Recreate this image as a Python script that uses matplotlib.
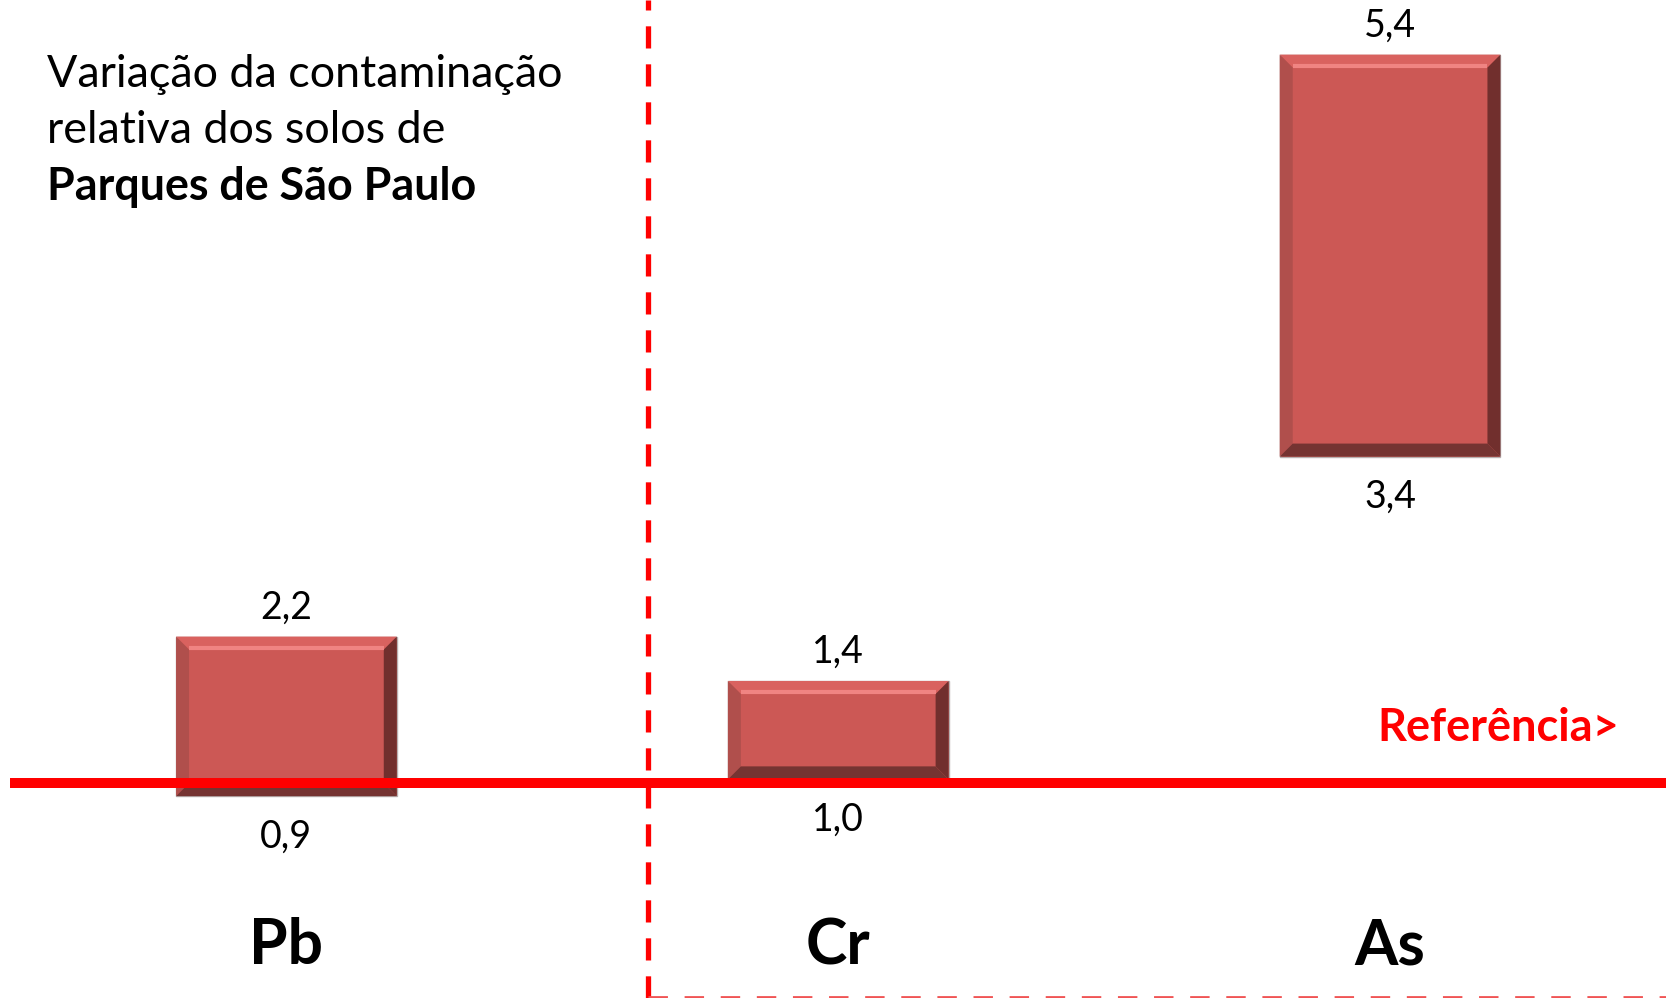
import matplotlib.pyplot as plt
from matplotlib.patches import Polygon, Rectangle

plt.rcParams['font.family'] = ['Lato', 'DejaVu Sans']

# floating bars: category, printed values, bar extents (chart units)
elements = ['Pb', 'Cr', 'As']
low_labels = ['0,9', '1,0', '3,4']
high_labels = ['2,2', '1,4', '5,4']
bar_low = [0.89, 1.03, 3.72]
bar_high = [2.22, 1.85, 7.07]
reference = 1.0
title_lines = ['Variação da contaminação', 'relativa dos solos de', 'Parques de São Paulo']

fig = plt.figure(figsize=(16.66, 9.98), dpi=100)
ax = fig.add_axes([0, 0, 1, 1])
ax.set_xlim(-0.519, 2.5)
ax.set_ylim(-0.792, 7.525)
ax.axis('off')

face = '#cc5855'
w = 0.4
# bevel size in data units (~13 px)
bx = 13 / 551.75
by = 13 / 120.0

for i, (lo, hi) in enumerate(zip(bar_low, bar_high)):
    x0, x1 = i - w / 2, i + w / 2
    ax.add_patch(Rectangle((x0, lo), w, hi - lo, facecolor=face,
                           edgecolor='#b8b0b0', lw=1.0, zorder=2))
    top = [(x0, hi), (x1, hi), (x1 - bx, hi - by), (x0 + bx, hi - by)]
    bot = [(x0, lo), (x1, lo), (x1 - bx, lo + by), (x0 + bx, lo + by)]
    left = [(x0, lo), (x0, hi), (x0 + bx, hi - by), (x0 + bx, lo + by)]
    right = [(x1, lo), (x1, hi), (x1 - bx, hi - by), (x1 - bx, lo + by)]
    ax.add_patch(Polygon(top, closed=True, facecolor='#d9625f', lw=0, zorder=3))
    ax.add_patch(Polygon(left, closed=True, facecolor='#b04f4c', lw=0, zorder=3))
    ax.add_patch(Polygon(right, closed=True, facecolor='#712f2d', lw=0, zorder=3))
    ax.add_patch(Polygon(bot, closed=True, facecolor='#753432', lw=0, zorder=3))
    # light stripe just under the top bevel
    ax.plot([x0 + bx, x1 - bx], [hi - by * 0.85, hi - by * 0.85],
            color='#f08482', lw=3, solid_capstyle='butt', zorder=4)

    ax.annotate(high_labels[i], (i, hi), xytext=(0, 21), textcoords='offset points',
                ha='center', va='center', fontsize=27, color='black')
    ax.annotate(low_labels[i], (i, lo), xytext=(0, -29), textcoords='offset points',
                ha='center', va='center', fontsize=27, color='black')
    ax.text(i, -0.36, elements[i], ha='center', va='center', fontsize=45,
            fontweight='bold', color='black')

# reference line
ax.plot([-0.5, 2.5], [reference, reference], color='#ff0000', lw=7.2,
        solid_capstyle='butt', zorder=5)
ax.text(2.415, reference + 0.46, 'Referência>', ha='right', va='center',
        fontsize=32.5, fontweight='bold', color='#ff0000')

# separators
sep_x = 0.655
ax.axvline(sep_x, color='#ff0000', lw=3.8, linestyle=(0, (4.2, 3.0)), zorder=1)
ax.plot([sep_x, 2.5], [-0.785, -0.785], color='#f05454', lw=2.0,
        linestyle=(0, (7, 6)), zorder=1)

# title block
for k, (line, yb) in enumerate(zip(title_lines, [0.9128, 0.8567, 0.7996])):
    ax.text(0.028, yb, line, transform=ax.transAxes, ha='left', va='baseline',
            fontsize=32.3, color='black',
            fontweight='bold' if k == 2 else 'normal')

fig.savefig('out.png', dpi=100, facecolor='white')
